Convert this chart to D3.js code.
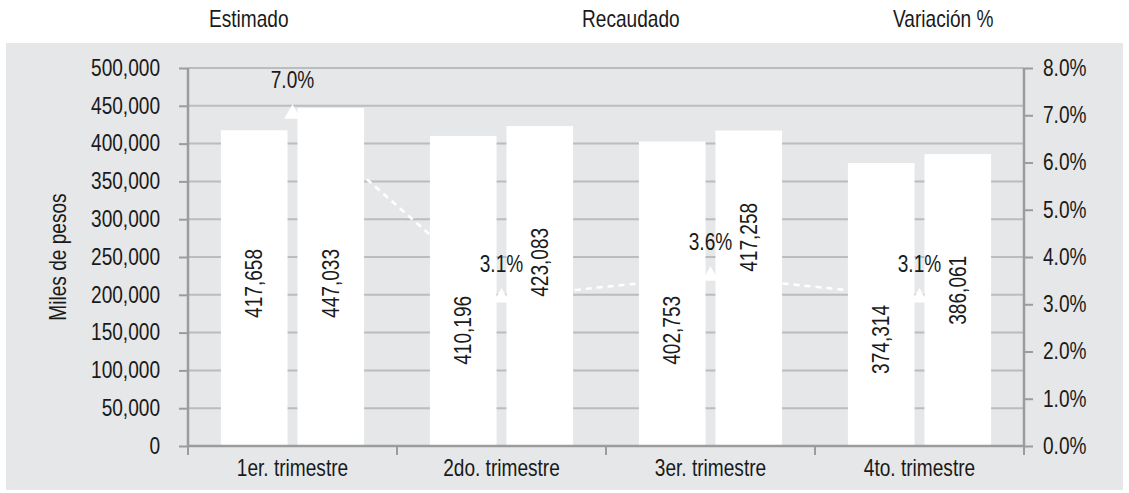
<!DOCTYPE html>
<html>
<head>
<meta charset="utf-8">
<script src="https://cdn.jsdelivr.net/npm/d3@7"></script>
<style>
  body { margin: 0; background: #fff; }
  text { font-family: "Liberation Sans", Arial, sans-serif; fill: #1a1a1a; }
</style>
</head>
<body>
<div id="chart"></div>
<script>
// data
var quarters = ["1er. trimestre", "2do. trimestre", "3er. trimestre", "4to. trimestre"];
var series = ["Estimado", "Recaudado"];
var estimado = [417658, 410196, 402753, 374314];
var recaudado = [447033, 423083, 417258, 386061];
var variacion = [0.0703, 0.0314, 0.0360, 0.0314];
var leftTicks = [0, 50000, 100000, 150000, 200000, 250000, 300000, 350000, 400000, 450000, 500000];
var rightTicks = [0, 0.01, 0.02, 0.03, 0.04, 0.05, 0.06, 0.07, 0.08];
var legendLabels = ["Estimado", "Recaudado", "Variación %"];

// where the value labels sit inside each bar (in thousand pesos)
var estLabelAt = [215000, 153000, 153000, 141000];
var recLabelAt = [215000, 243000, 276000, 206000];

var svgWidth = 1129;
var svgHeight = 493;

var margin = {top: 68, right: 105, bottom: 47, left: 188};
var plotWidth = svgWidth - margin.left - margin.right;
var plotHeight = svgHeight - margin.top - margin.bottom;

var axisColor = "#9a9d9f";
var gridColor = "#babcbe";
var fs = 23;
var squeeze = 0.83; // no narrow face installed, so squeeze the regular one

// move x/y into the transform and squeeze the text horizontally
function narrow(sel) {
  sel.each(function() {
    var t = d3.select(this);
    var tx = +t.attr("x") || 0, ty = +t.attr("y") || 0;
    var tr = t.attr("transform") || "";
    t.attr("x", null).attr("y", null)
      .attr("transform", `${tr} translate(${tx},${ty}) scale(${squeeze},1)`);
  });
}

var svg = d3.select("#chart")
  .append("svg")
  .attr("width", svgWidth)
  .attr("height", svgHeight);

// gray panel
svg.append("rect")
  .attr("x", 6).attr("y", 43)
  .attr("width", 1117).attr("height", 447)
  .attr("fill", "#e6e7e8");

// legend (swatches are white like the marks)
var legendX = [209, 582, 893];
var legend = svg.selectAll(".legend")
  .data(legendLabels)
  .enter().append("g")
  .attr("class", "legend")
  .attr("transform", (d, i) => `translate(${legendX[i]},27)`);
legend.append("rect")
  .attr("x", -22).attr("y", -14).attr("width", 14).attr("height", 14)
  .attr("fill", "#fff");
legend.append("text")
  .attr("font-size", fs)
  .text(d => d)
  .call(narrow);

var plot = svg.append("g")
  .attr("transform", `translate(${margin.left},${margin.top})`);

var x = d3.scaleBand()
  .domain(quarters)
  .range([0, plotWidth]);

var x1 = d3.scaleBand()
  .domain(series)
  .range([0, x.bandwidth()])
  .paddingInner(0.13)
  .paddingOuter(0.43);

var y = d3.scaleLinear()
  .domain([0, 500000])
  .range([plotHeight, 0]);

var y2 = d3.scaleLinear()
  .domain([0, 0.08])
  .range([plotHeight, 0]);

// gridlines
plot.selectAll(".grid")
  .data(leftTicks.slice(1))
  .enter().append("line")
  .attr("x1", 0).attr("x2", plotWidth)
  .attr("y1", d => y(d)).attr("y2", d => y(d))
  .attr("stroke", gridColor)
  .attr("stroke-width", 2);

// left axis
var yAxis = plot.append("g")
  .call(d3.axisLeft(y).tickValues(leftTicks).tickFormat(d3.format(",")).tickSize(9).tickPadding(19));
yAxis.select(".domain").attr("stroke", axisColor).attr("stroke-width", 2.5).attr("d", `M0,0V${plotHeight}`);
yAxis.selectAll(".tick line").attr("stroke", axisColor).attr("stroke-width", 2);
yAxis.selectAll(".tick text").attr("font-size", fs).attr("fill", "#1a1a1a")
  .attr("font-family", null).call(narrow);

// right axis
var y2Axis = plot.append("g")
  .attr("transform", `translate(${plotWidth},0)`)
  .call(d3.axisRight(y2).tickValues(rightTicks).tickFormat(d3.format(".1%")).tickSize(9).tickPadding(10));
y2Axis.select(".domain").attr("stroke", axisColor).attr("stroke-width", 2.5).attr("d", `M0,0V${plotHeight}`);
y2Axis.selectAll(".tick line").attr("stroke", axisColor).attr("stroke-width", 2);
y2Axis.selectAll(".tick text").attr("font-size", fs).attr("fill", "#1a1a1a")
  .attr("font-family", null).call(narrow);

// dashed variation line, behind the bars
var cx = d => x(d) + x.bandwidth() / 2;
var line = d3.line()
  .x((d, i) => cx(quarters[i]))
  .y(d => y2(d));
plot.append("path")
  .datum(variacion)
  .attr("d", line)
  .attr("fill", "none")
  .attr("stroke", "#fff")
  .attr("stroke-width", 2.5)
  .attr("stroke-dasharray", "6,5");

// bars
var groups = plot.selectAll(".quarter")
  .data(quarters)
  .enter().append("g")
  .attr("transform", d => `translate(${x(d)},0)`);

groups.append("rect")
  .attr("x", x1("Estimado"))
  .attr("width", x1.bandwidth())
  .attr("y", (d, i) => y(estimado[i]))
  .attr("height", (d, i) => plotHeight - y(estimado[i]))
  .attr("fill", "#fff");

groups.append("rect")
  .attr("x", x1("Recaudado"))
  .attr("width", x1.bandwidth())
  .attr("y", (d, i) => y(recaudado[i]))
  .attr("height", (d, i) => plotHeight - y(recaudado[i]))
  .attr("fill", "#fff");

groups.append("text")
  .attr("transform", (d, i) => `translate(${x1("Estimado") + x1.bandwidth() / 2 + 8},${y(estLabelAt[i])}) rotate(-90) scale(${squeeze},1)`)
  .attr("text-anchor", "middle")
  .attr("font-size", fs)
  .text((d, i) => d3.format(",")(estimado[i]));

groups.append("text")
  .attr("transform", (d, i) => `translate(${x1("Recaudado") + x1.bandwidth() / 2 + 8},${y(recLabelAt[i])}) rotate(-90) scale(${squeeze},1)`)
  .attr("text-anchor", "middle")
  .attr("font-size", fs)
  .text((d, i) => d3.format(",")(recaudado[i]));

// bottom axis
plot.append("line")
  .attr("x1", 0).attr("x2", plotWidth)
  .attr("y1", plotHeight).attr("y2", plotHeight)
  .attr("stroke", axisColor).attr("stroke-width", 2.5);
plot.selectAll(".xtick")
  .data(quarters.concat(["end"]))
  .enter().append("line")
  .attr("x1", d => d === "end" ? plotWidth : x(d))
  .attr("x2", d => d === "end" ? plotWidth : x(d))
  .attr("y1", plotHeight).attr("y2", plotHeight + 9)
  .attr("stroke", axisColor).attr("stroke-width", 2);
plot.selectAll(".xlabel")
  .data(quarters)
  .enter().append("text")
  .attr("x", d => cx(d))
  .attr("y", plotHeight + 30)
  .attr("text-anchor", "middle")
  .attr("font-size", fs)
  .text(d => d)
  .call(narrow);

// markers and their labels
plot.selectAll(".marker")
  .data(variacion)
  .enter().append("path")
  .attr("d", d3.symbol(d3.symbolTriangle, 120))
  .attr("transform", (d, i) => `translate(${cx(quarters[i])},${y2(d)})`)
  .attr("fill", "#fff");

plot.selectAll(".vlabel")
  .data(variacion)
  .enter().append("text")
  .attr("x", (d, i) => cx(quarters[i]))
  .attr("y", d => y2(d) - 26)
  .attr("text-anchor", "middle")
  .attr("font-size", fs)
  .text(d => d3.format(".1%")(d))
  .call(narrow);

// y title
svg.append("text")
  .attr("transform", `translate(66,${margin.top + plotHeight / 2}) rotate(-90) scale(${squeeze},1)`)
  .attr("text-anchor", "middle")
  .attr("font-size", fs)
  .text("Miles de pesos");
</script>
</body>
</html>
